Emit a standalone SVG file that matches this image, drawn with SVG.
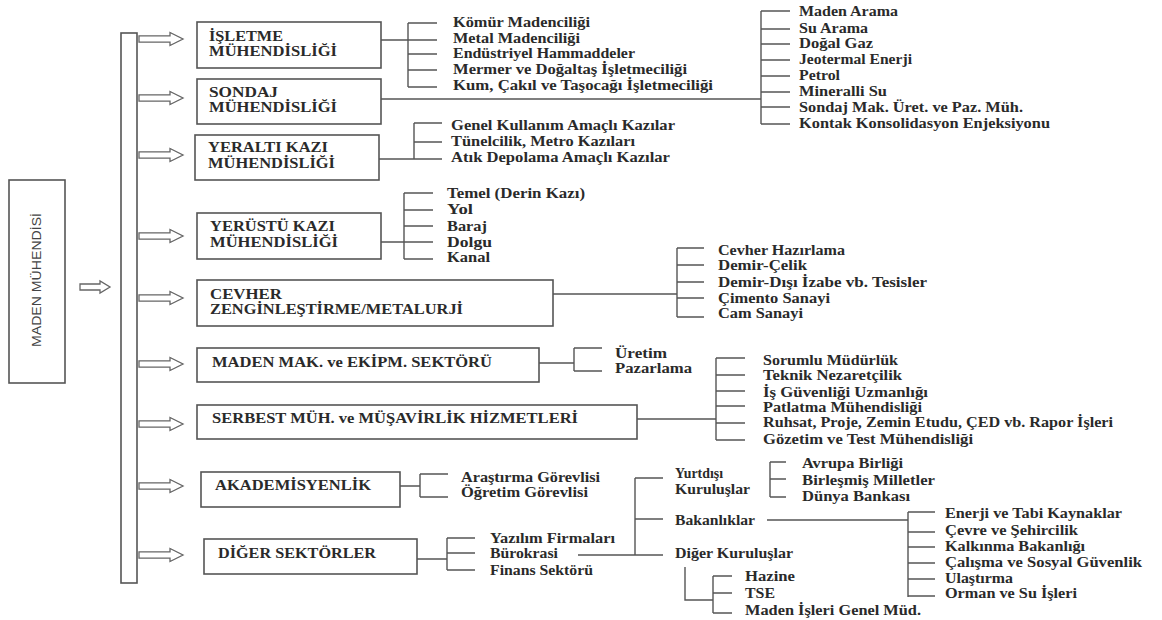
<svg xmlns="http://www.w3.org/2000/svg" width="1162" height="620" viewBox="0 0 1162 620">
<style>
.box{fill:#fff;stroke:#555;stroke-width:1.6}
.ln{stroke:#555;stroke-width:1.4;fill:none}
.arr{fill:#fff;stroke:#666;stroke-width:1.3}
.h{font-family:'Liberation Serif','Times New Roman',serif;font-weight:700;font-size:15.5px;fill:#2a2a2a}
.t{font-family:'Liberation Serif','Times New Roman',serif;font-weight:700;font-size:15px;fill:#2a2a2a}
.v{font-family:'Liberation Sans',Arial,sans-serif;font-size:12px;fill:#444}
</style>
<defs>
<path id="bigArrow" d="M0,-3.2 L31,-3.2 L31,-6.5 L44,0 L31,6.5 L31,3.2 L0,3.2 Z"/>
</defs>
<rect width="1162" height="620" fill="#fff"/>

<g id="maden-muhendisi">
<rect class="box" x="9" y="180" width="56" height="203"/>
<text class="v" x="0" y="0" transform="translate(41,280) rotate(-90)" text-anchor="middle" textLength="134" lengthAdjust="spacingAndGlyphs">MADEN MÜHENDİSİ</text>
</g>

<g id="bar">
<rect class="box" x="121" y="33" width="16" height="550"/>
</g>

<g id="arrows">
<path class="arr" d="M80,284 L100,284 L100,281 L110,287 L100,293 L100,290 L80,290 Z"/>
<use href="#bigArrow" class="arr" x="139" y="39"/>
<use href="#bigArrow" class="arr" x="139" y="98"/>
<use href="#bigArrow" class="arr" x="139" y="155"/>
<use href="#bigArrow" class="arr" x="139" y="236"/>
<use href="#bigArrow" class="arr" x="139" y="298"/>
<use href="#bigArrow" class="arr" x="139" y="364"/>
<use href="#bigArrow" class="arr" x="139" y="424"/>
<use href="#bigArrow" class="arr" x="139" y="486"/>
<use href="#bigArrow" class="arr" x="139" y="555"/>
</g>

<g id="connectors">
<path class="ln" d="M381,40 H408 M408,23 V87 M408,23 H437 M408,40 H437 M408,54 H437 M408,70 H437 M408,87 H437"/>
<path class="ln" d="M381,99 H761 M761,11 V124 M761,11 H790 M761,29 H790 M761,44 H790 M761,60 H790 M761,76 H790 M761,92 H790 M761,107 H790 M761,124 H790"/>
<path class="ln" d="M379,159 H414 M414,123 V159 M414,123 H442 M414,142 H442 M414,159 H442"/>
<path class="ln" d="M381,242 H404 M404,193 V259 M404,193 H433 M404,210 H433 M404,226 H433 M404,242 H433 M404,259 H433"/>
<path class="ln" d="M553,294 H677 M677,248 V317 M677,248 H704 M677,265 H704 M677,282 H704 M677,298 H704 M677,317 H704"/>
<path class="ln" d="M539,363 H574 M574,348 V371 M574,348 H602 M574,371 H602"/>
<path class="ln" d="M637,419 H716 M716,358 V440 M716,358 H745 M716,375 H745 M716,391 H745 M716,406 H745 M716,423 H745 M716,440 H745"/>
<path class="ln" d="M400,486 H420 M420,474 V497 M420,474 H448 M420,497 H448"/>
<path class="ln" d="M417,559 H447 M447,538 V570 M447,538 H475 M447,553 H475 M447,570 H475"/>
<path class="ln" d="M578,555 H663 M635,478 V555 M635,478 H663 M635,519 H663"/>
<path class="ln" d="M770,462 V497 M770,462 H786 M770,479 H786 M770,497 H786"/>
<path class="ln" d="M767,520 H908 M908,512 V597 M908,512 H935 M908,532 H935 M908,547 H935 M908,563 H935 M908,579 H935 M908,596 H935"/>
<path class="ln" d="M685,567 V600 H713 M713,576 V613 M713,576 H732 M713,593 H732 M713,613 H732"/>
</g>

<g id="isletme">
<rect class="box" x="197" y="22" width="184" height="46"/>
<text class="h" x="209" y="41" textLength="74" lengthAdjust="spacingAndGlyphs">İŞLETME</text>
<text class="h" x="209" y="56" textLength="128" lengthAdjust="spacingAndGlyphs">MÜHENDİSLİĞİ</text>
</g>
<g id="isletme-items">
<text class="t" x="453" y="27" textLength="137" lengthAdjust="spacingAndGlyphs">Kömür Madenciliği</text>
<text class="t" x="453" y="43" textLength="127" lengthAdjust="spacingAndGlyphs">Metal Madenciliği</text>
<text class="t" x="453" y="58" textLength="182" lengthAdjust="spacingAndGlyphs">Endüstriyel Hammaddeler</text>
<text class="t" x="453" y="74" textLength="234" lengthAdjust="spacingAndGlyphs">Mermer ve Doğaltaş İşletmeciliği</text>
<text class="t" x="453" y="90" textLength="260" lengthAdjust="spacingAndGlyphs">Kum, Çakıl ve Taşocağı İşletmeciliği</text>
</g>

<g id="sondaj">
<rect class="box" x="197" y="79" width="184" height="45"/>
<text class="h" x="209" y="97" textLength="69" lengthAdjust="spacingAndGlyphs">SONDAJ</text>
<text class="h" x="209" y="112" textLength="128" lengthAdjust="spacingAndGlyphs">MÜHENDİSLİĞİ</text>
</g>
<g id="sondaj-items">
<text class="t" x="799" y="16" textLength="99" lengthAdjust="spacingAndGlyphs">Maden Arama</text>
<text class="t" x="799" y="33" textLength="69" lengthAdjust="spacingAndGlyphs">Su Arama</text>
<text class="t" x="799" y="48" textLength="74" lengthAdjust="spacingAndGlyphs">Doğal Gaz</text>
<text class="t" x="799" y="64" textLength="113" lengthAdjust="spacingAndGlyphs">Jeotermal Enerji</text>
<text class="t" x="799" y="80" textLength="41" lengthAdjust="spacingAndGlyphs">Petrol</text>
<text class="t" x="799" y="96" textLength="88" lengthAdjust="spacingAndGlyphs">Mineralli Su</text>
<text class="t" x="799" y="112" textLength="224" lengthAdjust="spacingAndGlyphs">Sondaj Mak. Üret. ve Paz. Müh.</text>
<text class="t" x="799" y="128" textLength="251" lengthAdjust="spacingAndGlyphs">Kontak Konsolidasyon Enjeksiyonu</text>
</g>

<g id="yeralti">
<rect class="box" x="195" y="135" width="184" height="45"/>
<text class="h" x="208" y="152" textLength="120" lengthAdjust="spacingAndGlyphs">YERALTI KAZI</text>
<text class="h" x="208" y="168" textLength="127" lengthAdjust="spacingAndGlyphs">MÜHENDİSLİĞİ</text>
</g>
<g id="yeralti-items">
<text class="t" x="451" y="130" textLength="224" lengthAdjust="spacingAndGlyphs">Genel Kullanım Amaçlı Kazılar</text>
<text class="t" x="451" y="146" textLength="184" lengthAdjust="spacingAndGlyphs">Tünelcilik, Metro Kazıları</text>
<text class="t" x="451" y="162" textLength="219" lengthAdjust="spacingAndGlyphs">Atık Depolama Amaçlı Kazılar</text>
</g>

<g id="yerustu">
<rect class="box" x="197" y="213" width="184" height="46"/>
<text class="h" x="210" y="231" textLength="125" lengthAdjust="spacingAndGlyphs">YERÜSTÜ KAZI</text>
<text class="h" x="210" y="247" textLength="128" lengthAdjust="spacingAndGlyphs">MÜHENDİSLİĞİ</text>
</g>
<g id="yerustu-items">
<text class="t" x="447" y="198" textLength="138" lengthAdjust="spacingAndGlyphs">Temel (Derin Kazı)</text>
<text class="t" x="447" y="214" textLength="26" lengthAdjust="spacingAndGlyphs">Yol</text>
<text class="t" x="447" y="231" textLength="40" lengthAdjust="spacingAndGlyphs">Baraj</text>
<text class="t" x="447" y="247" textLength="45" lengthAdjust="spacingAndGlyphs">Dolgu</text>
<text class="t" x="447" y="262" textLength="43" lengthAdjust="spacingAndGlyphs">Kanal</text>
</g>

<g id="cevher">
<rect class="box" x="197" y="280" width="356" height="46"/>
<text class="h" x="210" y="299" textLength="72" lengthAdjust="spacingAndGlyphs">CEVHER</text>
<text class="h" x="210" y="314" textLength="253" lengthAdjust="spacingAndGlyphs">ZENGİNLEŞTİRME/METALURJİ</text>
</g>
<g id="cevher-items">
<text class="t" x="718" y="255" textLength="127" lengthAdjust="spacingAndGlyphs">Cevher Hazırlama</text>
<text class="t" x="718" y="270" textLength="89" lengthAdjust="spacingAndGlyphs">Demir-Çelik</text>
<text class="t" x="718" y="287" textLength="209" lengthAdjust="spacingAndGlyphs">Demir-Dışı İzabe vb. Tesisler</text>
<text class="t" x="718" y="303" textLength="112" lengthAdjust="spacingAndGlyphs">Çimento Sanayi</text>
<text class="t" x="718" y="318" textLength="85" lengthAdjust="spacingAndGlyphs">Cam Sanayi</text>
</g>

<g id="maden-mak">
<rect class="box" x="197" y="348" width="342" height="34"/>
<text class="h" x="212" y="367" textLength="280" lengthAdjust="spacingAndGlyphs">MADEN MAK. ve EKİPM. SEKTÖRÜ</text>
</g>
<g id="maden-mak-items">
<text class="t" x="615" y="358" textLength="52" lengthAdjust="spacingAndGlyphs">Üretim</text>
<text class="t" x="615" y="373" textLength="77" lengthAdjust="spacingAndGlyphs">Pazarlama</text>
</g>

<g id="serbest">
<rect class="box" x="197" y="405" width="440" height="34"/>
<text class="h" x="212" y="423" textLength="366" lengthAdjust="spacingAndGlyphs">SERBEST MÜH. ve MÜŞAVİRLİK HİZMETLERİ</text>
</g>
<g id="serbest-items">
<text class="t" x="763" y="365" textLength="135" lengthAdjust="spacingAndGlyphs">Sorumlu Müdürlük</text>
<text class="t" x="763" y="380" textLength="139" lengthAdjust="spacingAndGlyphs">Teknik Nezaretçilik</text>
<text class="t" x="763" y="397" textLength="165" lengthAdjust="spacingAndGlyphs">İş Güvenliği Uzmanlığı</text>
<text class="t" x="763" y="412" textLength="159" lengthAdjust="spacingAndGlyphs">Patlatma Mühendisliği</text>
<text class="t" x="763" y="427" textLength="350" lengthAdjust="spacingAndGlyphs">Ruhsat, Proje, Zemin Etudu, ÇED vb. Rapor İşleri</text>
<text class="t" x="763" y="444" textLength="210" lengthAdjust="spacingAndGlyphs">Gözetim ve Test Mühendisliği</text>
</g>

<g id="akademisyenlik">
<rect class="box" x="201" y="472" width="199" height="35"/>
<text class="h" x="215" y="490" textLength="156" lengthAdjust="spacingAndGlyphs">AKADEMİSYENLİK</text>
</g>
<g id="akademisyenlik-items">
<text class="t" x="461" y="482" textLength="139" lengthAdjust="spacingAndGlyphs">Araştırma Görevlisi</text>
<text class="t" x="461" y="497" textLength="127" lengthAdjust="spacingAndGlyphs">Öğretim Görevlisi</text>
</g>

<g id="diger">
<rect class="box" x="204" y="539" width="213" height="35"/>
<text class="h" x="218" y="558" textLength="158" lengthAdjust="spacingAndGlyphs">DİĞER SEKTÖRLER</text>
</g>
<g id="diger-items">
<text class="t" x="490" y="543" textLength="125" lengthAdjust="spacingAndGlyphs">Yazılım Firmaları</text>
<text class="t" x="490" y="558" textLength="68" lengthAdjust="spacingAndGlyphs">Bürokrasi</text>
<text class="t" x="490" y="575" textLength="103" lengthAdjust="spacingAndGlyphs">Finans Sektörü</text>
</g>

<g id="burokrasi-items">
<text class="t" x="675" y="478" textLength="48" lengthAdjust="spacingAndGlyphs">Yurtdışı</text>
<text class="t" x="675" y="494" textLength="75" lengthAdjust="spacingAndGlyphs">Kuruluşlar</text>
<text class="t" x="675" y="525" textLength="80" lengthAdjust="spacingAndGlyphs">Bakanlıklar</text>
<text class="t" x="675" y="558" textLength="118" lengthAdjust="spacingAndGlyphs">Diğer Kuruluşlar</text>
</g>

<g id="yurtdisi-items">
<text class="t" x="802" y="468" textLength="101" lengthAdjust="spacingAndGlyphs">Avrupa Birliği</text>
<text class="t" x="802" y="485" textLength="133" lengthAdjust="spacingAndGlyphs">Birleşmiş Milletler</text>
<text class="t" x="802" y="501" textLength="108" lengthAdjust="spacingAndGlyphs">Dünya Bankası</text>
</g>

<g id="bakanliklar-items">
<text class="t" x="945" y="518" textLength="177" lengthAdjust="spacingAndGlyphs">Enerji ve Tabi Kaynaklar</text>
<text class="t" x="945" y="535" textLength="133" lengthAdjust="spacingAndGlyphs">Çevre ve Şehircilik</text>
<text class="t" x="945" y="551" textLength="140" lengthAdjust="spacingAndGlyphs">Kalkınma Bakanlığı</text>
<text class="t" x="945" y="567" textLength="197" lengthAdjust="spacingAndGlyphs">Çalışma ve Sosyal Güvenlik</text>
<text class="t" x="945" y="583" textLength="68" lengthAdjust="spacingAndGlyphs">Ulaştırma</text>
<text class="t" x="945" y="598" textLength="132" lengthAdjust="spacingAndGlyphs">Orman ve Su İşleri</text>
</g>

<g id="diger-kuruluslar-items">
<text class="t" x="745" y="581" textLength="50" lengthAdjust="spacingAndGlyphs">Hazine</text>
<text class="t" x="745" y="598" textLength="30" lengthAdjust="spacingAndGlyphs">TSE</text>
<text class="t" x="745" y="615" textLength="176" lengthAdjust="spacingAndGlyphs">Maden İşleri Genel Müd.</text>
</g>
</svg>
